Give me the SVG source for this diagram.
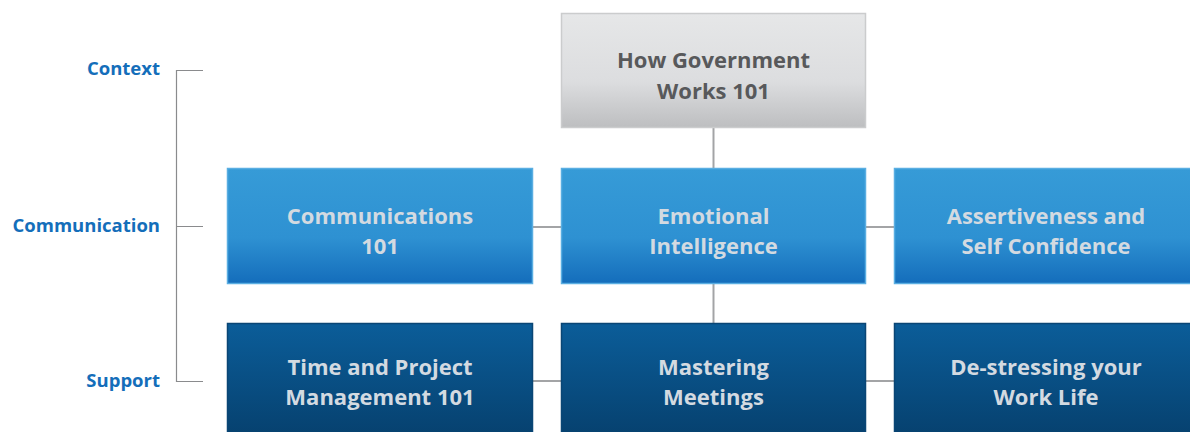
<svg xmlns="http://www.w3.org/2000/svg" width="1190" height="432" viewBox="0 0 1190 432">
  <defs>
    <linearGradient id="gGray" x1="0" y1="0" x2="0" y2="1">
      <stop offset="0" stop-color="#e6e7e8"/>
      <stop offset="0.6" stop-color="#dcdddf"/>
      <stop offset="1" stop-color="#bdbec0"/>
    </linearGradient>
    <linearGradient id="gLight" x1="0" y1="0" x2="0" y2="1">
      <stop offset="0" stop-color="#369bd7"/>
      <stop offset="0.6" stop-color="#2e91d2"/>
      <stop offset="1" stop-color="#146dbb"/>
    </linearGradient>
    <linearGradient id="gDark" x1="0" y1="0" x2="0" y2="1">
      <stop offset="0" stop-color="#0b5d99"/>
      <stop offset="1" stop-color="#063f6c"/>
    </linearGradient>
  </defs>
  <style>
    .label { font-family: "Open Sans", "Liberation Sans", sans-serif; font-weight: 700; font-size: 18.5px; fill: #146eba; text-anchor: end; }
    .bt { font-family: "Open Sans", "Liberation Sans", sans-serif; font-weight: 700; font-size: 22px; text-anchor: middle; }
    .light-t { fill: #d3dae1; }
    .gray-t { fill: #58595b; }
    .box-gray { fill: url(#gGray); stroke: #cbcccd; stroke-width: 1.5; }
    .box-light { fill: url(#gLight); stroke: #5aaee2; stroke-width: 1.5; }
    .box-dark { fill: url(#gDark); stroke: #0a4675; stroke-width: 1.5; }
    .conn { stroke: #a3a4a6; stroke-width: 2; fill: none; }
    .bracket { stroke: #8a8b8d; stroke-width: 1.2; fill: none; }
  </style>

  <rect width="1190" height="432" fill="#ffffff"/>

  <!-- row labels with bracket -->
  <g id="labels">
    <text class="label" x="160" y="75">Context</text>
    <text class="label" x="160" y="232">Communication</text>
    <text class="label" x="160" y="387">Support</text>
  </g>

  <g id="connectors">
    <path class="bracket" d="M203,70.5 H176.5 V381.5 H203 M176.5,226.5 H203"/>
    <line class="conn" x1="713.5" y1="128" x2="713.5" y2="168"/>
    <line class="conn" x1="713.5" y1="284" x2="713.5" y2="323"/>
    <line class="conn" x1="533" y1="227" x2="561" y2="227"/>
    <line class="conn" x1="866" y1="227" x2="894" y2="227"/>
    <line class="conn" x1="533" y1="381" x2="561" y2="381"/>
    <line class="conn" x1="866" y1="381" x2="894" y2="381"/>
  </g>

  <g id="how-government">
    <rect class="box-gray" x="561.5" y="13.5" width="304" height="114"/>
    <text class="bt gray-t" x="713.5" y="68">How Government</text>
    <text class="bt gray-t" x="713.5" y="99">Works 101</text>
  </g>

  <g id="communications">
    <rect class="box-light" x="227.5" y="168.5" width="305" height="115"/>
    <text class="bt light-t" x="380" y="224">Communications</text>
    <text class="bt light-t" x="380" y="254">101</text>
  </g>

  <g id="emotional-intelligence">
    <rect class="box-light" x="561.5" y="168.5" width="304" height="115"/>
    <text class="bt light-t" x="713.5" y="224">Emotional</text>
    <text class="bt light-t" x="713.5" y="254">Intelligence</text>
  </g>

  <g id="assertiveness">
    <rect class="box-light" x="894.5" y="168.5" width="304" height="115"/>
    <text class="bt light-t" x="1046" y="224">Assertiveness and</text>
    <text class="bt light-t" x="1046" y="254">Self Confidence</text>
  </g>

  <g id="time-project">
    <rect class="box-dark" x="227.5" y="323.5" width="305" height="120"/>
    <text class="bt light-t" x="380" y="375">Time and Project</text>
    <text class="bt light-t" x="380" y="405">Management 101</text>
  </g>

  <g id="mastering-meetings">
    <rect class="box-dark" x="561.5" y="323.5" width="304" height="120"/>
    <text class="bt light-t" x="713.5" y="375">Mastering</text>
    <text class="bt light-t" x="713.5" y="405">Meetings</text>
  </g>

  <g id="destressing">
    <rect class="box-dark" x="894.5" y="323.5" width="304" height="120"/>
    <text class="bt light-t" x="1046" y="375">De-stressing your</text>
    <text class="bt light-t" x="1046" y="405">Work Life</text>
  </g>
</svg>
